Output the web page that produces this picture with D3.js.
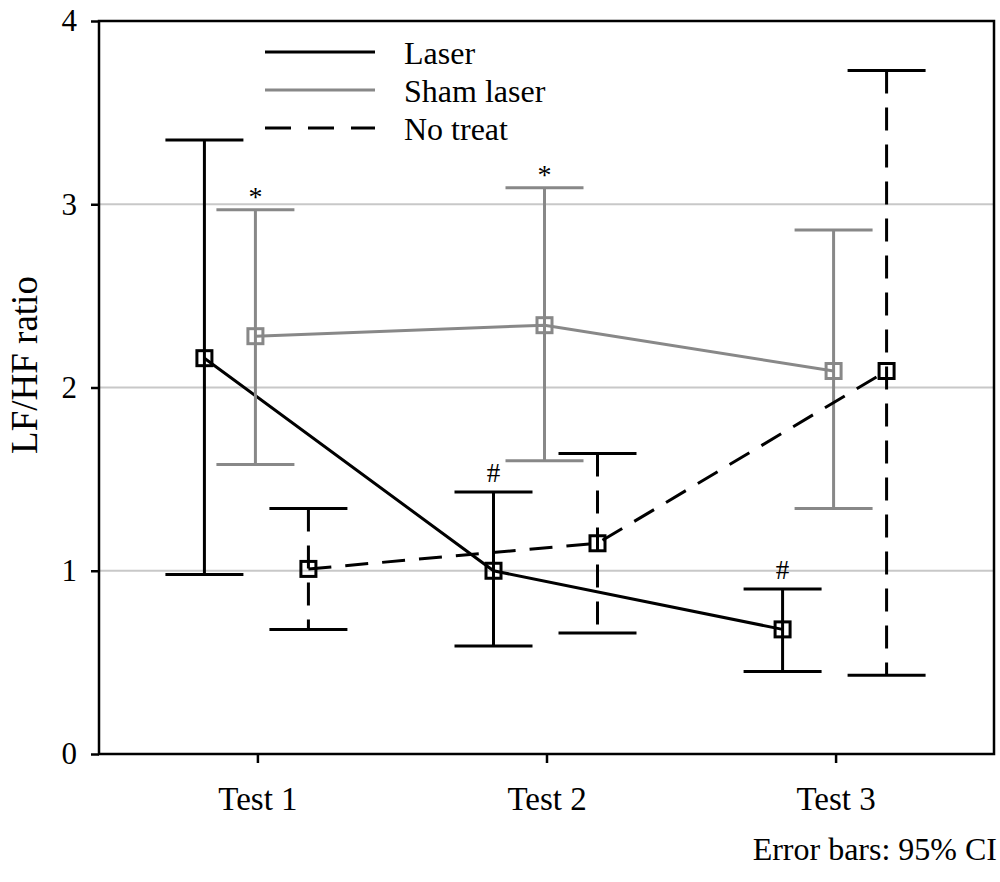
<!DOCTYPE html>
<meta charset="utf-8">
<style>
body { margin: 0; background: #fff; }
text { font-family: "Liberation Serif", "Times New Roman", serif; fill: #000; }
</style>
<body>
<script src="https://d3js.org/d3.v7.min.js"></script>
<script>

const width = 1000,
    height = 882

// data
const tests = ['Test 1', 'Test 2', 'Test 3']
const seriesNames = ['Laser', 'Sham laser', 'No treat']

const laserMean = [2.16, 1.00, 0.68]
const laserLow = [0.98, 0.59, 0.45]
const laserHigh = [3.35, 1.43, 0.90]

const shamMean = [2.28, 2.34, 2.09]
const shamLow = [1.58, 1.60, 1.34]
const shamHigh = [2.97, 3.09, 2.86]

const noTreatMean = [1.01, 1.15, 2.09]
const noTreatLow = [0.68, 0.66, 0.43]
const noTreatHigh = [1.34, 1.64, 3.73]

const laserMarks = ['', '#', '#']
const shamMarks = ['*', '*', '']

const yTicks = [0, 1, 2, 3, 4]
const gridTicks = [1, 2, 3]
const note = 'Error bars: 95% CI'

// layout / style per series
const styles = [
    { name: seriesNames[0], mean: laserMean, low: laserLow, high: laserHigh, marks: laserMarks,
      color: '#000', dash: null, dx: -53 },
    { name: seriesNames[1], mean: shamMean, low: shamLow, high: shamHigh, marks: shamMarks,
      color: '#888', dash: null, dx: -2 },
    { name: seriesNames[2], mean: noTreatMean, low: noTreatLow, high: noTreatHigh, marks: null,
      color: '#000', dash: '23,14', dx: 51 }
]

const plotL = 99, plotR = 994, plotT = 21, plotB = 754

var x = d3.scalePoint()
    .domain(tests)
    .range([plotL, plotR])
    .padding(0.548)

var y = d3.scaleLinear()
    .domain([0, 4])
    .range([plotB, plotT])

var svg = d3.select('body')
    .append('svg')
    .attr('width', width)
    .attr('height', height)

svg.append('rect')
    .attr('width', width)
    .attr('height', height)
    .attr('fill', '#fff')

// grid
svg.selectAll('.grid')
    .data(gridTicks)
    .enter().append('line')
    .attr('class', 'grid')
    .attr('x1', plotL).attr('x2', plotR)
    .attr('y1', function (d) { return y(d) })
    .attr('y2', function (d) { return y(d) })
    .attr('stroke', '#c8c8c8')
    .attr('stroke-width', 2)

// frame
svg.append('path')
    .attr('d', 'M' + plotL + ',' + plotB + 'V' + plotT + 'H' + plotR + 'V' + plotB + 'Z')
    .attr('fill', 'none')
    .attr('stroke', '#000')
    .attr('stroke-width', 2.5)

// y axis
var yAxis = d3.axisLeft(y)
    .tickValues(yTicks)
    .tickSize(8)
    .tickPadding(14)
    .tickFormat(d3.format('d'))

var gy = svg.append('g')
    .attr('transform', 'translate(' + plotL + ',0)')
    .call(yAxis)
gy.select('.domain').remove()
gy.selectAll('line').attr('stroke', '#000').attr('stroke-width', 2.5)
gy.selectAll('text')
    .style('font-family', '"Liberation Serif", serif')
    .style('font-size', '31px')
    .attr('fill', '#000')

// x axis
var xAxis = d3.axisBottom(x)
    .tickSize(9)
    .tickPadding(24)

var gx = svg.append('g')
    .attr('transform', 'translate(0,' + plotB + ')')
    .call(xAxis)
gx.select('.domain').remove()
gx.selectAll('line').attr('stroke', '#000').attr('stroke-width', 2.5)
gx.selectAll('text')
    .style('font-family', '"Liberation Serif", serif')
    .style('font-size', '33px')
    .attr('fill', '#000')

// y title
svg.append('text')
    .attr('transform', 'translate(37,365) rotate(-90)')
    .attr('text-anchor', 'middle')
    .style('font-size', '37px')
    .text('LF/HF ratio')

// series
var capHalf = 39

styles.forEach(function (s) {
    var g = svg.append('g')
    var px = function (i) { return x(tests[i]) + s.dx }

    // connecting line
    var line = d3.line()
        .x(function (d, i) { return px(i) })
        .y(function (d) { return y(d) })

    g.append('path')
        .datum(s.mean)
        .attr('d', line)
        .attr('fill', 'none')
        .attr('stroke', s.color)
        .attr('stroke-width', 3)
        .attr('stroke-dasharray', s.dash)

    // error bars
    tests.forEach(function (t, i) {
        g.append('line')
            .attr('x1', px(i)).attr('x2', px(i))
            .attr('y1', y(s.high[i])).attr('y2', y(s.low[i]))
            .attr('stroke', s.color)
            .attr('stroke-width', 3)
            .attr('stroke-dasharray', s.dash)

        ;[s.high[i], s.low[i]].forEach(function (v) {
            g.append('line')
                .attr('x1', px(i) - capHalf).attr('x2', px(i) + capHalf)
                .attr('y1', y(v)).attr('y2', y(v))
                .attr('stroke', s.color)
                .attr('stroke-width', 3)
        })
    })

    // markers
    g.selectAll('rect.pt')
        .data(s.mean)
        .enter().append('rect')
        .attr('class', 'pt')
        .attr('x', function (d, i) { return px(i) - 7.5 })
        .attr('y', function (d) { return y(d) - 7.5 })
        .attr('width', 15)
        .attr('height', 15)
        .attr('fill', 'none')
        .attr('stroke', s.color)
        .attr('stroke-width', 3)

    // significance marks
    if (s.marks) {
        s.marks.forEach(function (m, i) {
            if (!m) return
            g.append('text')
                .attr('x', px(i))
                .attr('y', y(s.high[i]) - (m === '*' ? 4 : 10))
                .attr('text-anchor', 'middle')
                .style('font-size', m === '*' ? '28px' : '27px')
                .text(m)
        })
    }
})

// legend
var legend = svg.append('g')
    .attr('transform', 'translate(265,52)')

styles.forEach(function (s, i) {
    var row = legend.append('g')
        .attr('transform', 'translate(0,' + (i * 38) + ')')
    row.append('line')
        .attr('x1', 0).attr('x2', 110)
        .attr('stroke', s.color)
        .attr('stroke-width', 3)
        .attr('stroke-dasharray', s.dash ? '26,17' : null)
    row.append('text')
        .attr('x', 139)
        .attr('y', 12)
        .style('font-size', '32px')
        .text(s.name)
})

// note
svg.append('text')
    .attr('x', 997)
    .attr('y', 860)
    .attr('text-anchor', 'end')
    .style('font-size', '32px')
    .text(note)

</script>
</body>
